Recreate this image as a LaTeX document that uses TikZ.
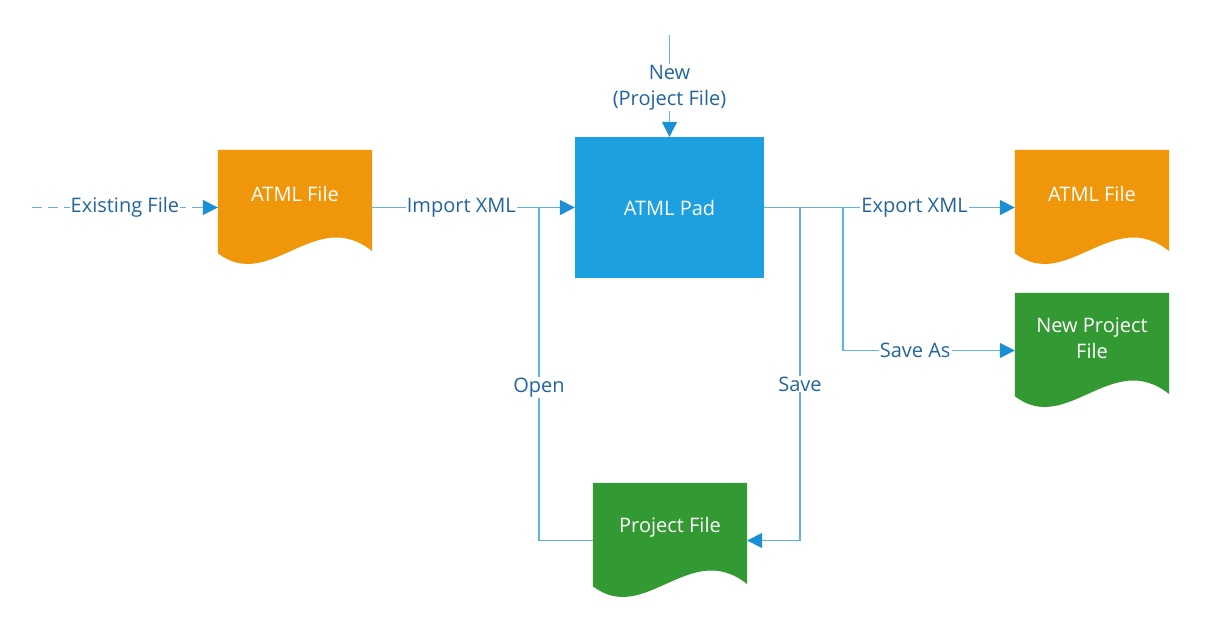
\documentclass[tikz,border=0pt]{standalone}
\usepackage{fontspec}
\setmainfont{Open Sans}
\usetikzlibrary{arrows.meta,backgrounds}
\definecolor{docorange}{RGB}{240,150,10}
\definecolor{padblue}{RGB}{29,160,224}
\definecolor{docgreen}{RGB}{51,153,51}
\definecolor{linecol}{RGB}{95,180,230}
\definecolor{tipcol}{RGB}{26,143,214}
\definecolor{labcol}{RGB}{35,100,160}
\tikzset{
  x=1pt, y=-1pt,
  doc/.style={minimum width=154pt, minimum height=115pt, inner sep=0pt, text=white, font=\fontsize{20}{26}\selectfont, align=center},
  doctext/.style={text=white, font=\fontsize{20}{26}\selectfont, align=center, inner sep=0pt},
  pad/.style={fill=padblue, minimum width=189pt, minimum height=141pt, inner sep=0pt, text=white, font=\fontsize{20}{26}\selectfont},
  conn/.style={draw=linecol, line width=1.6pt},
  arr/.style={conn, -{Triangle[length=15pt,width=15pt,color=tipcol]}},
  lab/.style={fill=white, text=labcol, font=\fontsize{20}{26}\selectfont, inner sep=1pt, align=center},
}
\newcommand\docfill[2]{%
  \fill[#2] (#1.north west) -- (#1.north east) -- ([yshift=14pt]#1.south east)
    .. controls ([xshift=-57pt,yshift=60pt]#1.south east) and ([xshift=52pt,yshift=-28pt]#1.south west)
    .. ([yshift=12pt]#1.south west) -- cycle;}
\begin{document}
\begin{tikzpicture}
\useasboundingbox (0,0) rectangle (1207,642);
% nodes
\node[doc] (f1) at (295,207.5) {};
\node[doctext] (f1t) at (295,193.5) {ATML File};
\node[pad] (pad) at (669.5,207.5) {ATML Pad};
\node[doc] (f2) at (1092,207.5) {};
\node[doctext] (f2t) at (1092,193.5) {ATML File};
\node[doc] (npf) at (1092,350.5) {};
\node[doctext] (npft) at (1092,338) {New Project\\File};
\node[doc] (pf) at (670,540.5) {};
\node[doctext] (pft) at (670,527.5) {Project File};
\begin{scope}[on background layer]
\docfill{f1}{docorange}
\docfill{f2}{docorange}
\docfill{npf}{docgreen}
\docfill{pf}{docgreen}
\end{scope}
% coordinates
\coordinate (ex) at (32,207.5);
\coordinate (exa) at (198,207.5);
\coordinate (nw) at (669.5,35);
\coordinate (j1) at (539,207.5);
\coordinate (j2) at (800,207.5);
\coordinate (j3) at (843,207.5);
% connectors
\draw[conn, dash pattern=on 10pt off 6pt] (ex) -- node[lab, pos=0.5] {Existing File} (f1.west);
\draw[arr] (exa) -- (f1.west);
\draw[arr] (f1.east) -- node[lab, pos=0.44] {Import XML} (pad.west);
\draw[arr] (nw) -- node[lab, pos=0.52] {New\\(Project File)} (pad.north);
\draw[conn] (pf.west) -| node[lab, pos=0.73] {Open} (j1);
\draw[conn] (pad.east) -- (j2);
\draw[arr] (j2) |- node[lab, pos=0.265] {Save} (pf.east);
\draw[arr] (pad.east) -- node[lab, pos=0.6] {Export XML} (f2.west);
\draw[arr] (j3) |- node[lab, pos=0.71] {Save As} (npf.west);
\end{tikzpicture}
\end{document}
